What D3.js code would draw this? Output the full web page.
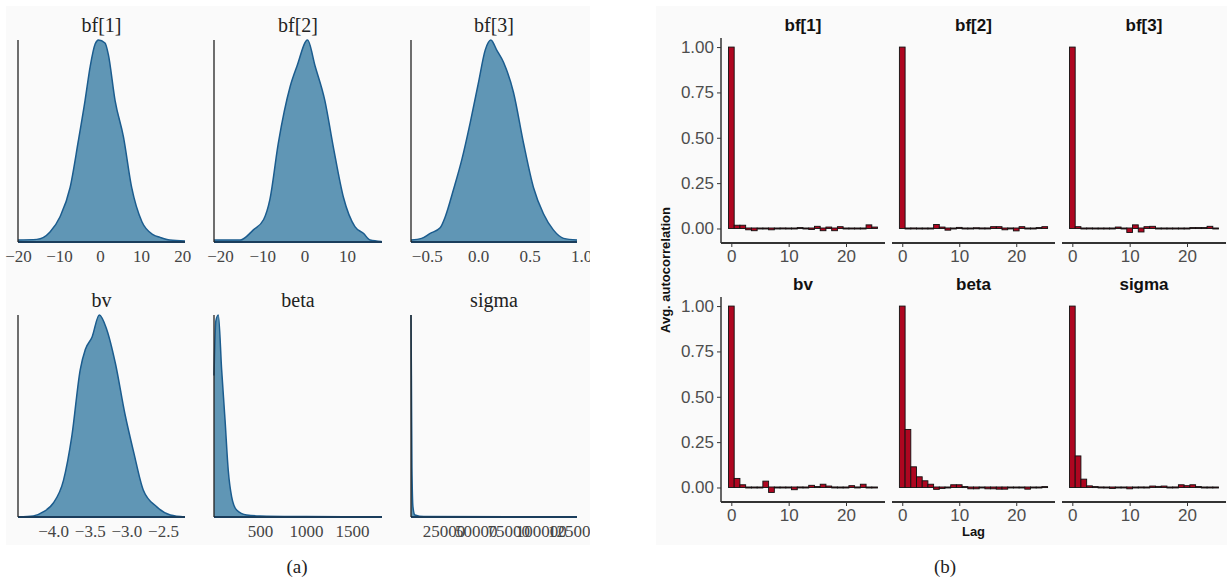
<!DOCTYPE html>
<html>
<head>
<meta charset="utf-8">
<script src="https://cdn.jsdelivr.net/npm/d3@7"></script>
<style>
  body { margin: 0; background: #fff; }
  svg { display: block; }
</style>
</head>
<body>
<svg width="1227" height="582"></svg>
<script>
// ---- (a) posterior densities (density scaled to peak = 1)
const densTitles = ["bf[1]", "bf[2]", "bf[3]", "bv", "beta", "sigma"];

const bf1X = [-20, -15.4, -12.2, -9.75, -7.3, -5.3, -3.66, -2.4, -1.2, -0.4, 1.2, 2.0, 3.66, 5.7, 7.7, 10.2, 13.0, 14.6, 17, 20.7];
const bf1D = [0.01, 0.013, 0.05, 0.125, 0.27, 0.50, 0.70, 0.87, 0.98, 1.0, 0.985, 0.93, 0.70, 0.52, 0.27, 0.10, 0.035, 0.023, 0.01, 0.005];

const bf2X = [-21.4, -15.2, -12.1, -9.7, -8.2, -6.2, -3.4, -1.8, 0.7, 2.5, 4.8, 6.8, 9.2, 11.9, 13.9, 15.5, 18.2];
const bf2D = [0.01, 0.01, 0.06, 0.11, 0.21, 0.49, 0.77, 0.87, 1.0, 0.87, 0.70, 0.47, 0.22, 0.076, 0.043, 0.01, 0.003];

const bf3X = [-0.653, -0.55, -0.466, -0.37, -0.32, -0.24, -0.158, -0.078, 0.003, 0.068, 0.123, 0.18, 0.246, 0.343, 0.44, 0.537, 0.634, 0.73, 0.83, 0.96];
const bf3D = [0.01, 0.018, 0.043, 0.07, 0.125, 0.26, 0.41, 0.59, 0.79, 0.95, 1.0, 0.95, 0.89, 0.74, 0.49, 0.27, 0.14, 0.06, 0.018, 0.01];

const bvX = [-4.47, -4.27, -4.13, -4.0, -3.86, -3.745, -3.63, -3.56, -3.47, -3.37, -3.27, -3.15, -3.02, -2.9, -2.77, -2.585, -2.4, -2.2];
const bvD = [0.0, 0.005, 0.026, 0.068, 0.18, 0.40, 0.73, 0.83, 0.89, 1.0, 0.93, 0.76, 0.51, 0.32, 0.134, 0.05, 0.01, 0.0];

const betaX = [0, 20, 47, 83, 120, 155, 192, 246, 355, 500, 1000, 1826];
const betaD = [0.7, 0.97, 1.0, 0.73, 0.48, 0.23, 0.10, 0.035, 0.01, 0.005, 0.002, 0.0];

const sigmaX = [0, 300, 700, 1500, 3000, 10000, 128000];
const sigmaD = [1.0, 0.7, 0.25, 0.05, 0.01, 0.002, 0.0];

const bf1Ticks = [-20, -10, 0, 10, 20];
const bf2Ticks = [-20, -10, 0, 10];
const bf3Ticks = [-0.5, 0.0, 0.5, 1.0];
const bvTicks = [-4.0, -3.5, -3.0, -2.5];
const betaTicks = [500, 1000, 1500];
const sigmaTicks = [25000, 50000, 75000, 100000, 125000];

// ---- (b) average autocorrelation by lag
const acfTitles = ["bf[1]", "bf[2]", "bf[3]", "bv", "beta", "sigma"];
const lags = [0, 1, 2, 3, 4, 5, 6, 7, 8, 9, 10, 11, 12, 13, 14, 15, 16, 17, 18, 19, 20, 21, 22, 23, 24, 25];
const acfBf1 = [1.0, 0.018, 0.018, -0.01, -0.015, 0.0, 0.0, -0.01, 0.0, 0.003, -0.003, 0.0, 0.005, 0.0, -0.008, 0.012, -0.015, 0.008, -0.015, 0.01, 0.002, 0.0, 0.0, 0.0, 0.02, 0.008];
const acfBf2 = [1.0, -0.003, 0.003, -0.005, -0.005, 0.0, 0.022, 0.008, -0.012, 0.0, 0.006, -0.002, -0.002, 0.004, 0.003, 0.003, 0.01, 0.01, -0.01, 0.003, -0.016, 0.01, -0.003, 0.0, 0.005, 0.01];
const acfBf3 = [1.0, 0.01, -0.002, 0.003, 0.0, -0.002, 0.0, 0.0, 0.008, -0.005, -0.025, 0.02, -0.022, 0.01, 0.012, 0.0, 0.0, -0.004, 0.0, 0.0, -0.003, 0.005, 0.005, 0.005, 0.012, 0.0];
const acfBv = [1.0, 0.05, 0.015, 0.0, 0.0, 0.0, 0.035, -0.03, -0.003, -0.003, 0.0, -0.015, 0.003, 0.0, 0.012, 0.005, 0.018, 0.008, 0.003, -0.005, -0.005, 0.01, 0.003, 0.018, -0.003, 0.0];
const acfBeta = [1.0, 0.32, 0.114, 0.059, 0.037, 0.018, -0.013, -0.008, -0.005, 0.015, 0.015, 0.005, -0.01, -0.01, 0.0, -0.01, -0.01, -0.012, -0.012, -0.005, -0.005, -0.005, -0.012, -0.005, -0.005, 0.005];
const acfSigma = [1.0, 0.174, 0.046, 0.009, 0.005, 0.003, -0.003, -0.008, 0.0, 0.0, -0.01, 0.0, 0.003, 0.0, 0.008, 0.006, 0.008, 0.0, 0.003, 0.015, 0.01, 0.015, 0.005, 0.0, 0.0, -0.003];
const acfTicksY = [0, 0.25, 0.5, 0.75, 1.0];
const acfTicksX = [0, 10, 20];

const svg = d3.select("svg");

// clip for sub-figure (a): tick labels run off its right edge like the original
svg.append("defs").append("clipPath").attr("id", "clipA")
    .append("rect").attr("x", 0).attr("y", 0).attr("width", 590).attr("height", 582);

// backgrounds of the two sub-figures
svg.append("rect").attr("x", 6).attr("y", 6).attr("width", 584).attr("height", 539).attr("fill", "#fafafa");
svg.append("rect").attr("x", 656).attr("y", 6).attr("width", 571).attr("height", 539).attr("fill", "#fafafa");

// ---------------- (a)
const figA = svg.append("g").attr("clip-path", "url(#clipA)");
const densCols = [[18, 185], [214, 382], [411, 577]];
const densRows = [[40, 242], [315, 517]];

const densSets = [
    {x: bf1X, d: bf1D, ticks: bf1Ticks, dom: [-20, 20.7], fmt: d3.format("d")},
    {x: bf2X, d: bf2D, ticks: bf2Ticks, dom: [-21.4, 18.3], fmt: d3.format("d")},
    {x: bf3X, d: bf3D, ticks: bf3Ticks, dom: [-0.653, 0.96], fmt: d3.format(".1f")},
    {x: bvX, d: bvD, ticks: bvTicks, dom: [-4.48, -2.2], fmt: d3.format(".1f")},
    {x: betaX, d: betaD, ticks: betaTicks, dom: [0, 1826], fmt: d3.format("d")},
    {x: sigmaX, d: sigmaD, ticks: sigmaTicks, dom: [0, 128000], fmt: d3.format("d")}
];

densSets.forEach((s, i) => {
    const [x0, x1] = densCols[i % 3];
    const [top, base] = densRows[Math.floor(i / 3)];
    const x = d3.scaleLinear().domain(s.dom).range([x0, x1]);
    const y = d3.scaleLinear().domain([0, 1]).range([base, top]);
    const pts = s.x.map((v, k) => [v, s.d[k]]);

    const g = figA.append("g");

    g.append("path")
        .datum(pts)
        .attr("fill", "#6096b5")
        .attr("d", d3.area().x(d => x(d[0])).y0(base).y1(d => y(d[1])).curve(d3.curveMonotoneX));

    g.append("path")
        .datum(pts)
        .attr("fill", "none")
        .attr("stroke", "#1b5c8e")
        .attr("stroke-width", 1.5)
        .attr("d", d3.line().x(d => x(d[0])).y(d => y(d[1])).curve(d3.curveMonotoneX));

    // baseline
    g.append("line")
        .attr("x1", x0).attr("x2", x1).attr("y1", base).attr("y2", base)
        .attr("stroke", "#1a3d5c").attr("stroke-width", 2);

    // left spine
    g.append("line")
        .attr("x1", x0).attr("x2", x0).attr("y1", top).attr("y2", base)
        .attr("stroke", "#222").attr("stroke-width", 1.3);

    const ax = g.append("g")
        .attr("transform", "translate(0," + base + ")")
        .call(d3.axisBottom(x).tickValues(s.ticks).tickFormat(s.fmt).tickSize(0).tickPadding(8));
    ax.select(".domain").remove();
    ax.selectAll("text")
        .attr("font-family", "Liberation Serif, Times New Roman, serif")
        .attr("font-size", 17)
        .attr("fill", "#444");

    g.append("text")
        .attr("x", (x0 + x1) / 2)
        .attr("y", top - 8)
        .attr("text-anchor", "middle")
        .attr("font-family", "Liberation Serif, Times New Roman, serif")
        .attr("font-size", 20)
        .attr("fill", "#222")
        .text(densTitles[i]);
});

// ---------------- (b)
const acfCols = [[721, 885], [892, 1055], [1062, 1226]];
const acfRows = [[38, 243], [297, 502]];
const acfSets = [acfBf1, acfBf2, acfBf3, acfBv, acfBeta, acfSigma];

acfSets.forEach((vals, i) => {
    const col = i % 3;
    const [x0, x1] = acfCols[col];
    const [top, base] = acfRows[Math.floor(i / 3)];
    const x = d3.scaleLinear().domain([-1.8, 26.8]).range([x0, x1]);
    const y = d3.scaleLinear().domain([-0.08, 1.05]).range([base, top]);

    const g = svg.append("g");

    // bars near zero still show their outline, so keep at least 1px
    g.selectAll(".bar")
        .data(lags)
        .enter()
        .append("rect")
        .attr("class", "bar")
        .attr("x", d => x(d - 0.5))
        .attr("width", x(0.5) - x(-0.5))
        .attr("y", d => Math.min(y(Math.max(0, vals[d])), y(0) - 0.5))
        .attr("height", d => Math.max(1, Math.abs(y(0) - y(vals[d]))))
        .attr("fill", "#ae0620")
        .attr("stroke", "#111")
        .attr("stroke-width", 0.9);

    const ax = g.append("g")
        .attr("transform", "translate(0," + base + ")")
        .call(d3.axisBottom(x).tickValues(acfTicksX).tickSize(4).tickPadding(3).tickSizeOuter(0));
    ax.select(".domain").attr("stroke", "#333").attr("stroke-width", 2).attr("d", "M" + x0 + ",0H" + x1);
    ax.selectAll(".tick line").attr("stroke", "#333");
    ax.selectAll("text")
        .attr("font-family", "Liberation Sans, Arial, sans-serif")
        .attr("font-size", 17)
        .attr("fill", "#4d4d4d");

    if (col === 0) {
        const ay = g.append("g")
            .attr("transform", "translate(" + x0 + ",0)")
            .call(d3.axisLeft(y).tickValues(acfTicksY).tickFormat(d3.format(".2f")).tickSize(4).tickPadding(3).tickSizeOuter(0));
        ay.select(".domain").attr("stroke", "#333").attr("stroke-width", 1.5).attr("d", "M0," + top + "V" + base);
        ay.selectAll(".tick line").attr("stroke", "#333");
        ay.selectAll("text")
            .attr("font-family", "Liberation Sans, Arial, sans-serif")
            .attr("font-size", 17)
            .attr("fill", "#4d4d4d");
    }

    g.append("text")
        .attr("x", (x0 + x1) / 2)
        .attr("y", top - 7)
        .attr("text-anchor", "middle")
        .attr("font-family", "Liberation Sans, Arial, sans-serif")
        .attr("font-weight", "bold")
        .attr("font-size", 17)
        .attr("fill", "#111")
        .text(acfTitles[i]);
});

svg.append("text")
    .attr("transform", "translate(670,270) rotate(-90)")
    .attr("text-anchor", "middle")
    .attr("font-family", "Liberation Sans, Arial, sans-serif")
    .attr("font-weight", "bold")
    .attr("font-size", 13)
    .attr("fill", "#111")
    .text("Avg.  autocorrelation");

svg.append("text")
    .attr("x", 973.5)
    .attr("y", 536)
    .attr("text-anchor", "middle")
    .attr("font-family", "Liberation Sans, Arial, sans-serif")
    .attr("font-weight", "bold")
    .attr("font-size", 13)
    .attr("fill", "#111")
    .text("Lag");

// captions
svg.append("text").attr("x", 297).attr("y", 573).attr("text-anchor", "middle")
    .attr("font-family", "Liberation Serif, Times New Roman, serif").attr("font-size", 19).attr("fill", "#222").text("(a)");
svg.append("text").attr("x", 945).attr("y", 573).attr("text-anchor", "middle")
    .attr("font-family", "Liberation Serif, Times New Roman, serif").attr("font-size", 19).attr("fill", "#222").text("(b)");
</script>
</body>
</html>
